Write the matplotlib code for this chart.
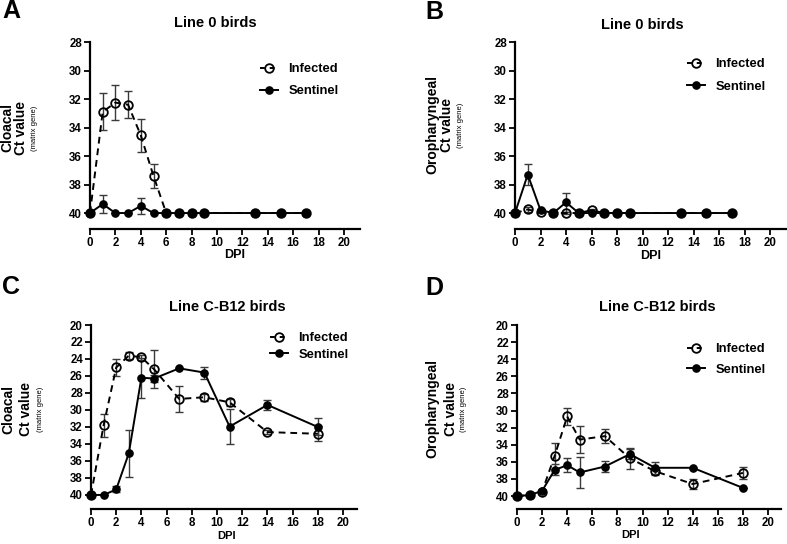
import matplotlib
matplotlib.use("Agg")
import matplotlib.pyplot as plt
from matplotlib.lines import Line2D

plt.rcParams['font.family'] = ['Liberation Sans', 'DejaVu Sans']
plt.rcParams['font.weight'] = 'bold'

# ---------------- data ----------------
days_line0 = [0, 1, 2, 3, 4, 5, 6, 7, 8, 9, 13, 15, 17]
days_cb12 = [0, 1, 2, 3, 4, 5, 7, 9, 11, 14, 18]

a_inf = [40, 32.9, 32.25, 32.4, 34.55, 37.4, 40, 40, 40, 40, 40, 40, 40]
a_inf_err = [0, 1.3, 1.2, 0.95, 1.15, 0.85, 0, 0, 0, 0, 0, 0, 0]
a_sen = [40, 39.37, 40, 40, 39.5, 40, 40, 40, 40, 40, 40, 40, 40]
a_sen_err = [0, 0.63, 0, 0, 0.55, 0, 0, 0, 0, 0, 0, 0, 0]

b_inf = [40, 39.75, 39.95, 40, 40, 40, 39.8, 40, 40, 40, 40, 40, 40]
b_inf_err = [0, 0.15, 0.05, 0, 0.05, 0, 0.1, 0, 0, 0, 0, 0, 0]
b_sen = [40, 37.3, 39.8, 40, 39.25, 40, 40, 40, 40, 40, 40, 40, 40]
b_sen_err = [0, 0.75, 0.1, 0, 0.65, 0, 0, 0, 0, 0, 0, 0, 0]

c_inf = [40, 31.8, 25.0, 23.6, 23.8, 25.2, 28.7, 28.5, 29.1, 32.6, 32.8]
c_inf_err = [0, 1.35, 0.95, 0.45, 0.3, 2.2, 1.5, 0.4, 0.45, 0.2, 0.9]
c_sen = [40, 40, 39.35, 35.1, 26.2, 26.3, 25.1, 25.6, 31.95, 29.4, 32.0]
c_sen_err = [0, 0, 0.35, 2.75, 2.35, 0.4, 0, 0.7, 2.05, 0.6, 1.0]

d_inf = [40, 39.9, 39.5, 35.3, 30.7, 33.4, 33.0, 35.6, 37.1, 38.6, 37.3]
d_inf_err = [0, 0.1, 0.15, 1.5, 1.0, 1.55, 0.8, 1.2, 0.4, 0.55, 0.7]
d_sen = [40, 39.9, 39.4, 36.95, 36.4, 37.25, 36.55, 35.1, 36.7, 36.7, 39.05]
d_sen_err = [0, 0.1, 0.1, 0.65, 0.85, 1.85, 0.7, 0.6, 0.7, 0, 0]

x_ticks = list(range(0, 21, 2))
y_ticks_top = list(range(28, 41, 2))
y_ticks_bottom = list(range(20, 41, 2))
series_labels = ["Infected", "Sentinel"]

# ---------------- figure ----------------
W, H = 787, 544
fig = plt.figure(figsize=(W / 100, H / 100), dpi=100)


def fx(px):
    return px / W


def fy(py):
    return 1 - py / H


def add_ax(l, t, r, b):
    return fig.add_axes([l / W, 1 - b / H, (r - l) / W, (b - t) / H])


def draw_panel(ax, days, inf, inf_err, sen, sen_err, xmax, ylo, yhi, yticks):
    ax.errorbar(days, inf, yerr=inf_err, fmt='none', ecolor='#3a3a3a',
                elinewidth=1.0, capsize=2.6, capthick=1.0, zorder=2, clip_on=False)
    ax.errorbar(days, sen, yerr=sen_err, fmt='none', ecolor='#3a3a3a',
                elinewidth=1.0, capsize=2.6, capthick=1.0, zorder=2, clip_on=False)
    ax.plot(days, inf, color='black', lw=1.4, ls=(0, (3.5, 2.5)), marker='o',
            ms=6.2, mfc='none', mec='black', mew=1.3, zorder=3, clip_on=False)
    ax.plot(days, sen, color='black', lw=1.4, ls='-', marker='o',
            ms=5.2, mfc='black', mec='black', zorder=4, clip_on=False)
    ax.set_xlim(0, xmax)
    ax.set_ylim(ylo, yhi)
    for s in ['top', 'right']:
        ax.spines[s].set_visible(False)
    ax.spines['left'].set_bounds(yticks[0], yticks[-1])
    ax.spines['bottom'].set_bounds(0, xmax)
    for s in ['left', 'bottom']:
        ax.spines[s].set_linewidth(1.6)
    ax.set_xticks(x_ticks)
    ax.set_yticks(yticks)
    ax.tick_params(axis='both', direction='out', length=4, width=1.3,
                   labelsize=8.3, pad=1.8)
    for lab in ax.get_xticklabels() + ax.get_yticklabels():
        lab.set_fontweight('bold')
    ax.patch.set_alpha(0)


def legend(ax, x, y, spacing):
    h_inf = Line2D([], [], color='black', lw=1.4, ls=(0, (2.5, 2.5)), marker='o',
                   ms=6.2, mfc='none', mec='black', mew=1.3)
    h_sen = Line2D([], [], color='black', lw=1.4, ls='-', marker='o',
                   ms=5.2, mfc='black', mec='black')
    leg = ax.legend([h_inf, h_sen], series_labels, loc='upper left',
                    bbox_to_anchor=(fx(x), fy(y)), bbox_transform=fig.transFigure,
                    frameon=False, handlelength=1.4, handletextpad=0.8,
                    labelspacing=spacing, borderpad=0, borderaxespad=0,
                    prop={'size': 9.3, 'weight': 'bold'})
    return leg


# Panel A
axA = add_ax(90, 42, 360, 229)
draw_panel(axA, days_line0, a_inf, a_inf_err, a_sen, a_sen_err,
           270 / 12.7, 41.12, 28, y_ticks_top)
legend(axA, 260, 63, 0.78)

# Panel B
axB = add_ax(515, 42, 786, 229)
draw_panel(axB, days_line0, b_inf, b_inf_err, b_sen, b_sen_err,
           271 / 12.75, 41.12, 28, y_ticks_top)
legend(axB, 687, 58, 0.82)

# Panel C
axC = add_ax(91, 325, 357, 509)
draw_panel(axC, days_cb12, c_inf, c_inf_err, c_sen, c_sen_err,
           266 / 12.6, 41.65, 20, y_ticks_bottom)
legend(axC, 270, 332, 0.35)

# Panel D
axD = add_ax(517, 325, 781, 509)
draw_panel(axD, days_cb12, d_inf, d_inf_err, d_sen, d_sen_err,
           264 / 12.55, 41.52, 20, y_ticks_bottom)
legend(axD, 687, 343, 0.68)

# Titles
fig.text(fx(215), fy(23), "Line 0 birds", ha='center', va='center', fontsize=10.5, fontweight='bold')
fig.text(fx(642), fy(25), "Line 0 birds", ha='center', va='center', fontsize=10.5, fontweight='bold')
fig.text(fx(227), fy(307), "Line C-B12 birds", ha='center', va='center', fontsize=10.5, fontweight='bold')
fig.text(fx(657), fy(307), "Line C-B12 birds", ha='center', va='center', fontsize=10.5, fontweight='bold')

# Panel letters
for lx, ly, letter in [(11, 11, 'A'), (434, 12, 'B'), (11, 287, 'C'), (434, 288, 'D')]:
    fig.text(fx(lx), fy(ly), letter, ha='center', va='center', fontsize=18, fontweight='bold')

# DPI labels
fig.text(fx(235), fy(255), "DPI", ha='center', va='center', fontsize=9, fontweight='bold')
fig.text(fx(651), fy(256), "DPI", ha='center', va='center', fontsize=9, fontweight='bold')
fig.text(fx(227), fy(536), "DPI", ha='center', va='center', fontsize=8, fontweight='bold')
fig.text(fx(631), fy(535), "DPI", ha='center', va='center', fontsize=8, fontweight='bold')

# Y labels
def ylabel(x1, x2, x3, yc, word):
    fig.text(fx(x1), fy(yc), word, rotation=90, ha='center', va='center', fontsize=10, fontweight='bold')
    fig.text(fx(x2), fy(yc), "Ct value", rotation=90, ha='center', va='center', fontsize=10, fontweight='bold')
    fig.text(fx(x3), fy(yc), "(matrix gene)", rotation=90, ha='center', va='center', fontsize=5.5, fontweight='normal')


ylabel(7, 21, 34, 128, "Cloacal")
ylabel(432, 447, 461, 125, "Oropharyngeal")
ylabel(8, 26, 40, 409, "Cloacal")
ylabel(432, 451, 464, 409, "Oropharyngeal")

fig.savefig("out.png", dpi=100)
